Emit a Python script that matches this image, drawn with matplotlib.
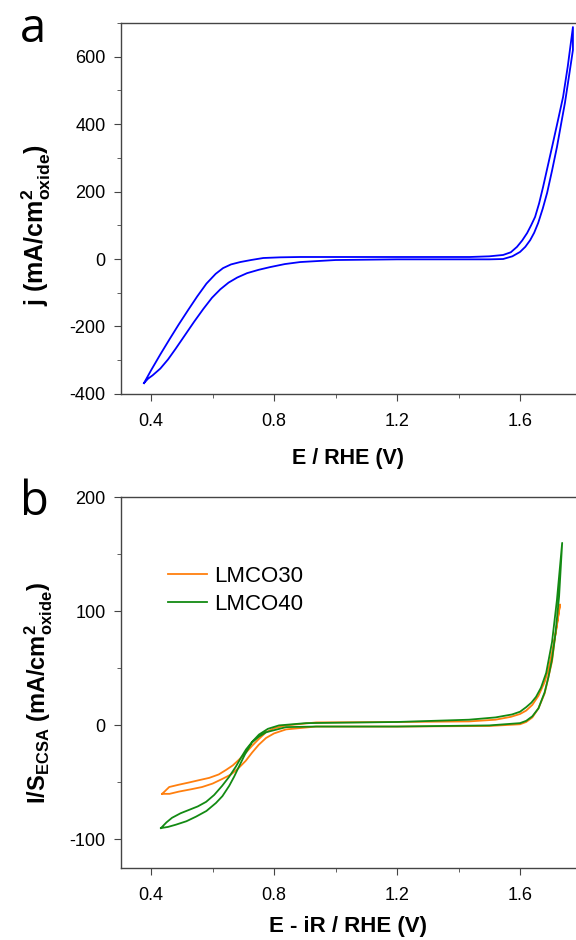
import numpy as np
import matplotlib.pyplot as plt
from matplotlib.ticker import MultipleLocator

plt.rcParams['font.family'] = ['Liberation Sans', 'DejaVu Sans']
plt.rcParams['mathtext.fontset'] = 'custom'
plt.rcParams['mathtext.rm'] = 'Liberation Sans'
plt.rcParams['mathtext.bf'] = 'Liberation Sans:bold'
plt.rcParams['axes.unicode_minus'] = False

# panel a: CV loop (anodic branch then cathodic return)
a_up_x = [0.377, 0.40, 0.43, 0.46, 0.49, 0.52, 0.55, 0.58, 0.61, 0.634, 0.66,
          0.69, 0.725, 0.765, 0.82, 0.885, 1.0, 1.2, 1.437, 1.50, 1.545, 1.57, 1.59,
          1.607, 1.623, 1.636, 1.649, 1.662, 1.675, 1.69, 1.707, 1.723, 1.74, 1.755, 1.772]
a_up_y = [-368, -330, -283, -238, -194, -152, -111, -73, -44, -27, -16,
          -9, -3, 3, 5, 6, 6, 6, 6, 8, 12, 20, 36,
          55, 77, 100, 125, 165, 214, 275, 344, 410, 481, 570, 688]
a_dn_x = [1.772, 1.758, 1.746, 1.733, 1.72, 1.704, 1.688, 1.674, 1.659, 1.646, 1.633, 1.617,
          1.60, 1.575, 1.545, 1.50, 1.4, 1.2, 1.0, 0.885, 0.835, 0.787, 0.75, 0.712,
          0.68, 0.652, 0.625, 0.598, 0.57, 0.54, 0.51, 0.48, 0.455, 0.43, 0.405, 0.39, 0.377]
a_dn_y = [620, 535, 463, 398, 332, 262, 196, 150, 107, 78, 56, 36,
          21, 8, 0, -1, -1, -1, -3, -9, -15, -24, -32, -42,
          -55, -70, -90, -115, -148, -186, -226, -266, -298, -325, -345, -355, -368]

# panel b
lmco30_up_x = [0.436, 0.459, 0.49, 0.524, 0.556, 0.589, 0.62, 0.644, 0.666, 0.686, 0.708, 0.728,
               0.75, 0.774, 0.80, 0.839, 0.937, 1.2, 1.434, 1.52, 1.57, 1.6, 1.62, 1.64,
               1.66, 1.68, 1.693, 1.704, 1.718, 1.73]
lmco30_up_y = [-60, -54, -52, -50, -48, -46, -43, -39, -35, -30, -24, -18,
               -12, -6, -2.5, 0, 2.6, 3, 3.5, 5, 7.5, 10, 13, 18,
               26, 38, 50, 64, 84, 106]
lmco30_dn_x = [1.73, 1.715, 1.704, 1.692, 1.68, 1.66, 1.64, 1.62, 1.6, 1.5, 1.2, 0.937,
               0.839, 0.80, 0.774, 0.75, 0.728, 0.708, 0.686, 0.66, 0.631, 0.6, 0.566, 0.53,
               0.491, 0.46, 0.436]
lmco30_dn_y = [106, 80, 56, 42, 28, 15, 7, 3, 1, -0.5, -1, -1,
               -3.5, -7, -11, -17, -24, -31, -37, -43, -47, -51, -54, -56,
               -58, -60, -60]

lmco40_up_x = [0.432, 0.45, 0.468, 0.496, 0.524, 0.552, 0.579, 0.605, 0.631, 0.654, 0.676, 0.693,
               0.709, 0.73, 0.751, 0.78, 0.816, 0.904, 1.2, 1.434, 1.52, 1.574, 1.6, 1.62,
               1.637, 1.652, 1.668, 1.685, 1.704, 1.72, 1.737]
lmco40_up_y = [-90, -85, -81, -77, -74, -71, -67, -61, -53, -45, -36, -28,
               -21, -14, -8, -3, 0, 2, 3, 5, 7, 9.6, 12, 16,
               20, 25, 33, 46, 73, 110, 160]
lmco40_dn_x = [1.737, 1.727, 1.715, 1.704, 1.692, 1.68, 1.66, 1.64, 1.62, 1.6, 1.5, 1.2,
               0.937, 0.839, 0.774, 0.75, 0.728, 0.706, 0.686, 0.67, 0.654, 0.632, 0.611, 0.58,
               0.546, 0.515, 0.481, 0.455, 0.432]
lmco40_dn_y = [160, 113, 80, 58, 42, 29, 15, 8, 4, 2, 0, -1,
               -1, -1.5, -6, -10, -15, -25, -36, -45, -53, -62, -68, -75,
               -80, -84, -87, -89, -90]

fig = plt.figure(figsize=(5.76, 9.4), dpi=100)
ax1 = fig.add_axes([0.210, 0.581, 0.790, 0.3945])
ax2 = fig.add_axes([0.210, 0.0766, 0.790, 0.3944])

ax1.plot(a_up_x + a_dn_x, a_up_y + a_dn_y, color='#0000ff', lw=1.3)
ax1.set_xlim(0.302, 1.782)
ax1.set_ylim(-400, 700)
ax1.yaxis.set_major_locator(MultipleLocator(200))
ax1.yaxis.set_minor_locator(MultipleLocator(100))
ax1.set_xlabel('E / RHE (V)', fontsize=15.5, fontweight='bold', labelpad=13)
ax1.set_ylabel(r'j (mA/cm$^{\mathbf{2}}_{\mathbf{oxide}}$)', fontsize=18, fontweight='bold')
ax1.yaxis.set_label_coords(-0.15, 0.455)

c30 = '#ff7f0e'
c40 = '#138a13'
ax2.plot(lmco30_up_x + lmco30_dn_x, lmco30_up_y + lmco30_dn_y, color=c30, lw=1.3, label='LMCO30')
ax2.plot(lmco40_up_x + lmco40_dn_x, lmco40_up_y + lmco40_dn_y, color=c40, lw=1.3, label='LMCO40')
ax2.set_xlim(0.302, 1.782)
ax2.set_ylim(-125, 200)
ax2.yaxis.set_major_locator(MultipleLocator(100))
ax2.yaxis.set_minor_locator(MultipleLocator(50))
ax2.set_xlabel('E - iR / RHE (V)', fontsize=16, fontweight='bold', labelpad=8)
ax2.set_ylabel(r'I/S$_{\mathbf{ECSA}}$ (mA/cm$^{\mathbf{2}}_{\mathbf{oxide}}$)', fontsize=17,
               fontweight='bold')
ax2.yaxis.set_label_coords(-0.145, 0.472)
ax2.legend(loc='upper left', bbox_to_anchor=(0.075, 0.85), frameon=False, fontsize=16,
           handlelength=1.75, handletextpad=0.3, labelspacing=0.3, borderaxespad=0.2)

for ax in (ax1, ax2):
    ax.xaxis.set_major_locator(MultipleLocator(0.4))
    ax.xaxis.set_minor_locator(MultipleLocator(0.2))
    ax.spines['right'].set_visible(False)
    for s in ('left', 'top', 'bottom'):
        ax.spines[s].set_color('#444444')
        ax.spines[s].set_linewidth(1.0)
    ax.tick_params(which='both', direction='out', top=False, right=False,
                   labelsize=13, color='#444444', pad=6)
    ax.tick_params(axis='x', which='major', pad=9)
    ax.tick_params(which='major', length=5)
    ax.tick_params(which='minor', length=3)

fig.text(0.035, 0.955, 'a', fontsize=34, family=['Open Sans', 'DejaVu Sans'], va='baseline')
fig.text(0.035, 0.452, 'b', fontsize=34, family=['Open Sans', 'DejaVu Sans'], va='baseline')

fig.savefig('out.png', dpi=100)
